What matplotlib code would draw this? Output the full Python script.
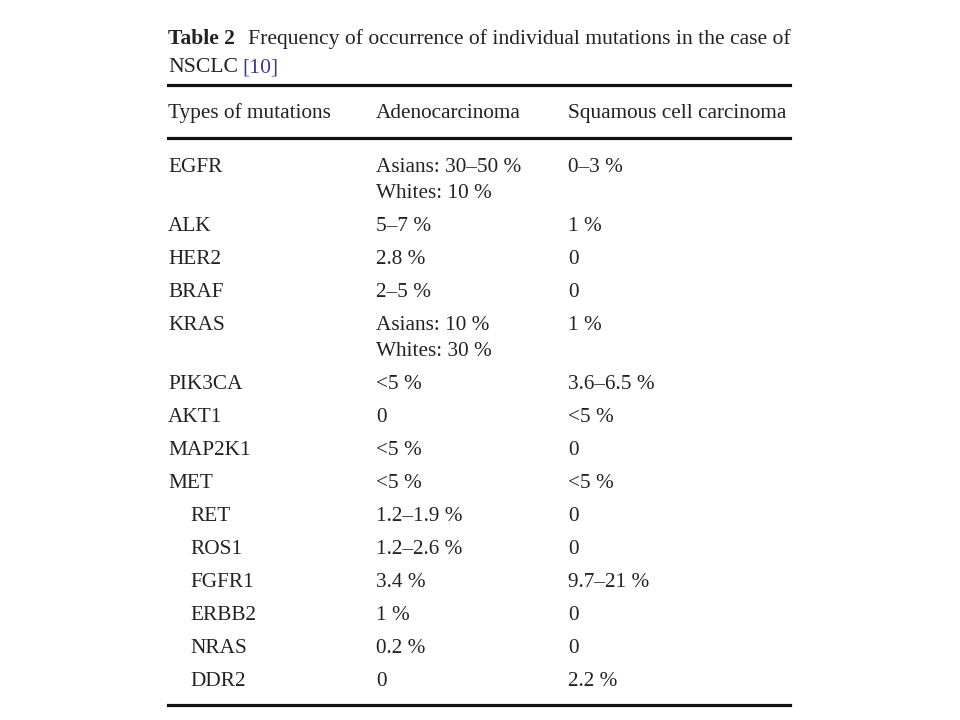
import matplotlib.pyplot as plt
from matplotlib.lines import Line2D

plt.rcParams['font.family'] = ['Liberation Serif', 'DejaVu Serif']

title_bold = 'Table 2'
title_rest = 'Frequency of occurrence of individual mutations in the case of'
title_line2 = 'NSCLC'
title_ref = '[10]'

headers = ['Types of mutations', 'Adenocarcinoma', 'Squamous cell carcinoma']

mutations = ['EGFR', 'ALK', 'HER2', 'BRAF', 'KRAS', 'PIK3CA', 'AKT1', 'MAP2K1',
             'MET', 'RET', 'ROS1', 'FGFR1', 'ERBB2', 'NRAS', 'DDR2']
indented = [False] * 9 + [True] * 6
adeno = ['Asians: 30\u201350 %\nWhites: 10 %', '5\u20137 %', '2.8 %', '2\u20135 %',
         'Asians: 10 %\nWhites: 30 %', '<5 %', '0', '<5 %', '<5 %',
         '1.2\u20131.9 %', '1.2\u20132.6 %', '3.4 %', '1 %', '0.2 %', '0']
squamous = ['0\u20133 %', '1 %', '0', '0', '1 %', '3.6\u20136.5 %', '<5 %', '0',
            '<5 %', '0', '0', '9.7\u201321 %', '0', '0', '2.2 %']

TXT = '#222222'
FS = 15.3
FS_CAP = 15.55

fig = plt.figure(figsize=(9.6, 7.2), dpi=100)
ax = fig.add_axes([0, 0, 1, 1])
ax.set_xlim(0, 960)
ax.set_ylim(720, 0)
ax.axis('off')

x0, x1 = 168, 790
col_x = [168, 376, 568]
indent = 22

# caption
t = ax.text(x0, 44, title_bold, fontsize=FS_CAP, fontweight='bold', color=TXT, va='baseline')
fig.canvas.draw()
bb = t.get_window_extent()
ax.text(bb.x1 + 13, 44, title_rest, fontsize=FS_CAP, color=TXT, va='baseline')
t2 = ax.text(x0, 72, title_line2, fontsize=FS_CAP, color=TXT, va='baseline')
fig.canvas.draw()
bb2 = t2.get_window_extent()
ax.text(bb2.x1 + 4, 72, title_ref, fontsize=FS_CAP, color='#3c3c8c', va='baseline')

# rules
for y, lw in [(85, 2.3), (138, 2.3), (705, 2.3)]:
    ax.add_line(Line2D([x0, x1], [y, y], color='#111111', lw=lw))

# header
for x, h in zip(col_x, headers):
    ax.text(x, 118, h, fontsize=FS, color=TXT, va='baseline')

# body
row_gap, line_gap = 33, 26
y = 172
for name, ind, a, s in zip(mutations, indented, adeno, squamous):
    ax.text(col_x[0] + (indent if ind else 0), y, name, fontsize=FS, color=TXT, va='baseline')
    for j, line in enumerate(a.split('\n')):
        ax.text(col_x[1], y + j * line_gap, line, fontsize=FS, color=TXT, va='baseline')
    ax.text(col_x[2], y, s, fontsize=FS, color=TXT, va='baseline')
    y += row_gap + line_gap * (len(a.split('\n')) - 1)

fig.savefig('out.png', dpi=100, facecolor='white')
